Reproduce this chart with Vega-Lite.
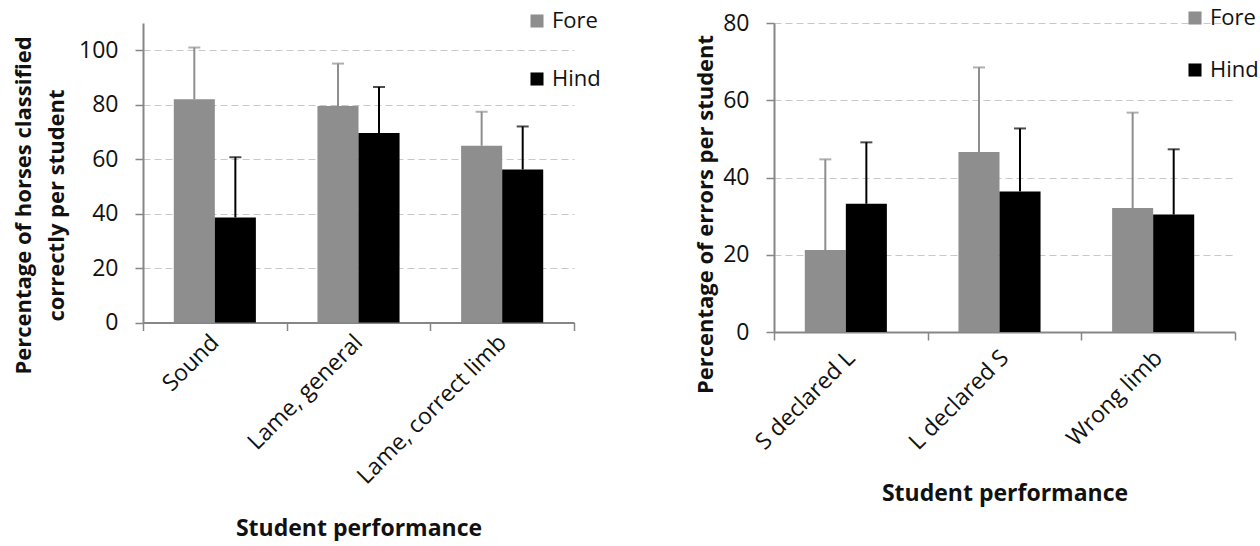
{
  "$schema": "https://vega.github.io/schema/vega-lite/v6.json",
  "padding": {"left": 12, "top": 7, "right": 0, "bottom": 0},
  "background": "white",
  "config": {
    "font": "Open Sans",
    "view": {"stroke": null},
    "axis": {
      "labelFont": "Open Sans", "labelFontSize": 23, "labelColor": "#111111", "labelLimit": 0,
      "titleFont": "Open Sans", "titleFontSize": 23, "titleFontWeight": "bold", "titleColor": "#111111",
      "domainColor": "#868686", "domainWidth": 2,
      "tickColor": "#868686", "tickWidth": 1.5, "tickSize": 8,
      "gridColor": "#c8c8c8", "gridDash": [7, 4], "gridWidth": 1.2
    },
    "legend": {
      "labelFont": "Open Sans", "labelFontSize": 22, "labelColor": "#111111",
      "symbolType": "square", "symbolSize": 170, "symbolStrokeWidth": 0, "labelOffset": 4
    }
  },
  "datasets": {
    "left": [
      {"category": "Sound", "limb": "Fore", "value": 82, "upper": 101},
      {"category": "Sound", "limb": "Hind", "value": 38.6, "upper": 60.7},
      {"category": "Lame, general", "limb": "Fore", "value": 79.5, "upper": 95.1},
      {"category": "Lame, general", "limb": "Hind", "value": 69.6, "upper": 86.5},
      {"category": "Lame, correct limb", "limb": "Fore", "value": 64.9, "upper": 77.4},
      {"category": "Lame, correct limb", "limb": "Hind", "value": 56.2, "upper": 72.0}
    ],
    "right": [
      {"category": "S declared L", "limb": "Fore", "value": 21.2, "upper": 44.7},
      {"category": "S declared L", "limb": "Hind", "value": 33.2, "upper": 49.1},
      {"category": "L declared S", "limb": "Fore", "value": 46.6, "upper": 68.5},
      {"category": "L declared S", "limb": "Hind", "value": 36.4, "upper": 52.7},
      {"category": "Wrong limb", "limb": "Fore", "value": 32.1, "upper": 56.8},
      {"category": "Wrong limb", "limb": "Hind", "value": 30.4, "upper": 47.3}
    ]
  },
  "spacing": 93,
  "resolve": {"scale": {"color": "independent"}, "legend": {"color": "independent"}},
  "hconcat": [
    {
      "width": 431, "height": 299.5,
      "data": {"name": "left"},
      "encoding": {
        "x": {
          "field": "category", "type": "nominal",
          "sort": ["Sound", "Lame, general", "Lame, correct limb"],
          "scale": {"paddingInner": 0, "paddingOuter": 0},
          "axis": {"title": "Student performance", "labelAngle": -45, "labelAlign": "right", "labelBaseline": "middle", "tickBand": "extent", "labelPadding": 8, "titlePadding": 29}
        },
        "xOffset": {"field": "limb", "type": "nominal", "sort": ["Fore", "Hind"], "scale": {"paddingOuter": 0.75, "paddingInner": 0}}
      },
      "layer": [
        {
          "mark": {"type": "bar"},
          "encoding": {
            "y": {"field": "value", "type": "quantitative", "scale": {"domain": [0, 110], "nice": false},
              "axis": {"title": ["Percentage of horses classified", "correctly per student"], "values": [0, 20, 40, 60, 80, 100], "grid": true, "labelPadding": 17, "titlePadding": 10, "titleLineHeight": 33, "titleFontSize": 22, "titleY": 182}},
            "color": {"field": "limb", "type": "nominal", "scale": {"domain": ["Fore", "Hind"], "range": ["#8e8e8e", "#000000"]},
              "legend": {"title": null, "orient": "none", "legendX": 383, "legendY": -13, "rowPadding": 36}}
          }
        },
        {
          "mark": {"type": "rule", "strokeWidth": 2},
          "encoding": {
            "y": {"field": "value", "type": "quantitative"},
            "y2": {"field": "upper"},
            "color": {"field": "limb", "type": "nominal", "legend": null}
          }
        },
        {
          "mark": {"type": "tick", "thickness": 2, "size": 12},
          "encoding": {
            "y": {"field": "upper", "type": "quantitative"},
            "color": {"field": "limb", "type": "nominal", "legend": null}
          }
        }
      ]
    },
    {
      "width": 461, "height": 309,
      "data": {"name": "right"},
      "encoding": {
        "x": {
          "field": "category", "type": "nominal",
          "sort": ["S declared L", "L declared S", "Wrong limb"],
          "scale": {"paddingInner": 0, "paddingOuter": 0},
          "axis": {"title": "Student performance", "labelAngle": -45, "labelAlign": "right", "labelBaseline": "middle", "tickBand": "extent", "labelPadding": 14, "titlePadding": 28}
        },
        "xOffset": {"field": "limb", "type": "nominal", "sort": ["Fore", "Hind"], "scale": {"paddingOuter": 0.75, "paddingInner": 0}}
      },
      "layer": [
        {
          "mark": {"type": "bar"},
          "encoding": {
            "y": {"field": "value", "type": "quantitative", "scale": {"domain": [0, 80], "nice": false},
              "axis": {"title": "Percentage of errors per student", "values": [0, 20, 40, 60, 80], "grid": true, "labelPadding": 17, "titlePadding": 5, "titleFontSize": 22, "titleY": 191}},
            "color": {"field": "limb", "type": "nominal", "scale": {"domain": ["Fore", "Hind"], "range": ["#8e8e8e", "#000000"]},
              "legend": {"title": null, "orient": "none", "legendX": 410, "legendY": -16, "rowPadding": 30}}
          }
        },
        {
          "mark": {"type": "rule", "strokeWidth": 2},
          "encoding": {
            "y": {"field": "value", "type": "quantitative"},
            "y2": {"field": "upper"},
            "color": {"field": "limb", "type": "nominal", "legend": null}
          }
        },
        {
          "mark": {"type": "tick", "thickness": 2, "size": 12},
          "encoding": {
            "y": {"field": "upper", "type": "quantitative"},
            "color": {"field": "limb", "type": "nominal", "legend": null}
          }
        }
      ]
    }
  ]
}
